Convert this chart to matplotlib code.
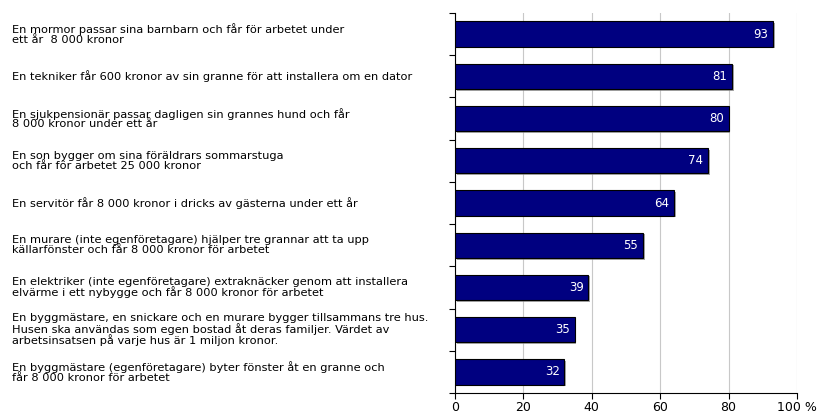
#Horizontal bar chart: share who think the work should be declared (Swedish survey)
import matplotlib.pyplot as plt
import matplotlib.patheffects as pe
from matplotlib.transforms import blended_transform_factory

plt.rcParams['font.family'] = ['DejaVu Sans']

#Labels and values, top to bottom
labels = [
    "En mormor passar sina barnbarn och får för arbetet under\nett år  8 000 kronor",
    "En tekniker får 600 kronor av sin granne för att installera om en dator",
    "En sjukpensionär passar dagligen sin grannes hund och får\n8 000 kronor under ett år",
    "En son bygger om sina föräldrars sommarstuga\noch får för arbetet 25 000 kronor",
    "En servitör får 8 000 kronor i dricks av gästerna under ett år",
    "En murare (inte egenföretagare) hjälper tre grannar att ta upp\nkällarfönster och får 8 000 kronor för arbetet",
    "En elektriker (inte egenföretagare) extraknäcker genom att installera\nelvärme i ett nybygge och får 8 000 kronor för arbetet",
    "En byggmästare, en snickare och en murare bygger tillsammans tre hus.\nHusen ska användas som egen bostad åt deras familjer. Värdet av\narbetsinsatsen på varje hus är 1 miljon kronor.",
    "En byggmästare (egenföretagare) byter fönster åt en granne och\nfår 8 000 kronor för arbetet",
]
values = [93, 81, 80, 74, 64, 55, 39, 35, 32]
xticks = [0, 20, 40, 60, 80, 100]
xticklabels = ['0', '20', '40', '60', '80', '100 %']

fig = plt.figure(figsize=(8.28, 4.15), dpi=100)
ax = fig.add_axes([455/828, 1-393/415, (797-455)/828, (393-13)/415])

ypos = list(range(len(values)))
bars = ax.barh(ypos, values, height=0.6, color='#000080', edgecolor='black', linewidth=0.8, zorder=3)
for b in bars:
    b.set_path_effects([pe.SimplePatchShadow(offset=(1.2, -1.2), shadow_rgbFace='gray', alpha=0.7), pe.Normal()])

#Value labels inside the bars
for y, v in zip(ypos, values):
    ax.text(v - 1.4, y, str(v), color='white', ha='right', va='center', fontsize=8.5, zorder=4)

#Category labels at the left of the figure
trans = blended_transform_factory(fig.transFigure, ax.transData)
for y, lab in zip(ypos, labels):
    ax.text(12/828, y, lab, transform=trans, ha='left', va='center', fontsize=8.2, linespacing=0.95)

ax.set_xlim(0, 100)
ax.set_ylim(len(values) - 0.5, -0.5)
ax.set_xticks(xticks)
ax.set_xticklabels(xticklabels, fontsize=9)
ax.set_yticks([i - 0.5 for i in range(len(values) + 1)])
ax.set_yticklabels([])
ax.tick_params(axis='both', direction='out', length=4, width=0.8)
ax.tick_params(axis='x', pad=2)
ax.xaxis.grid(True, color='#c8c8c8', linewidth=0.8, zorder=0)
ax.set_axisbelow(True)
for s in ['top', 'right']:
    ax.spines[s].set_visible(False)

fig.savefig('out.png', dpi=100)
